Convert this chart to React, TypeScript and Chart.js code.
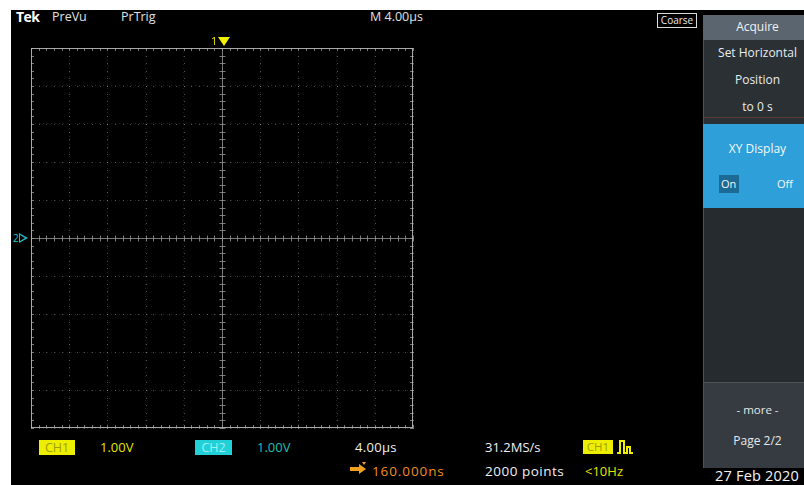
import React, { useEffect, useRef } from "react";
import { Chart, registerables } from "chart.js";

Chart.register(...registerables);

// XY display: both channels currently show no trace
const ch1X: number[] = [];
const ch2Y: number[] = [];
const xTicks = [-5, -4, -3, -2, -1, 0, 1, 2, 3, 4, 5];
const yTicks = [-5, -4, -3, -2, -1, 0, 1, 2, 3, 4, 5];
const minorStep = 0.2;

const font = "'Open Sans', 'Noto Sans', sans-serif";

const graticulePlugin = {
  id: "graticule",
  afterDraw(chart: any) {
    const { ctx, chartArea: a, scales } = chart;
    const xs = scales.x;
    const ys = scales.y;
    ctx.save();
    ctx.fillStyle = "rgba(160,160,160,0.5)";
    for (const xv of xTicks) {
      const px = Math.round(xs.getPixelForValue(xv));
      for (let k = -25; k <= 25; k++) {
        const py = Math.round(ys.getPixelForValue(k * minorStep));
        ctx.fillRect(px, py, 1, 1);
      }
    }
    for (const yv of yTicks) {
      const py = Math.round(ys.getPixelForValue(yv));
      for (let k = -25; k <= 25; k++) {
        const px = Math.round(xs.getPixelForValue(k * minorStep));
        ctx.fillRect(px, py, 1, 1);
      }
    }
    const cx = Math.round(xs.getPixelForValue(0)) + 0.5;
    const cy = Math.round(ys.getPixelForValue(0)) + 0.5;
    ctx.strokeStyle = "rgba(150,150,150,0.8)";
    ctx.lineWidth = 1;
    ctx.beginPath();
    ctx.moveTo(cx, a.top);
    ctx.lineTo(cx, a.bottom);
    ctx.moveTo(a.left, cy);
    ctx.lineTo(a.right, cy);
    for (let k = -25; k <= 25; k++) {
      const py = Math.round(ys.getPixelForValue(k * minorStep)) + 0.5;
      ctx.moveTo(cx - 3, py);
      ctx.lineTo(cx + 3, py);
      const px = Math.round(xs.getPixelForValue(k * minorStep)) + 0.5;
      ctx.moveTo(px, cy - 3);
      ctx.lineTo(px, cy + 3);
    }
    for (let k = -25; k <= 25; k++) {
      const px = Math.round(xs.getPixelForValue(k * minorStep)) + 0.5;
      ctx.moveTo(px, a.top);
      ctx.lineTo(px, a.top + 3);
      ctx.moveTo(px, a.bottom);
      ctx.lineTo(px, a.bottom - 3);
      const py = Math.round(ys.getPixelForValue(k * minorStep)) + 0.5;
      ctx.moveTo(a.left, py);
      ctx.lineTo(a.left + 3, py);
      ctx.moveTo(a.right, py);
      ctx.lineTo(a.right - 3, py);
    }
    ctx.stroke();
    ctx.strokeStyle = "rgba(185,185,185,0.9)";
    ctx.strokeRect(Math.round(a.left) + 0.5, Math.round(a.top) + 0.5, Math.round(a.width) - 1, Math.round(a.height) - 1);
    ctx.restore();
  },
};

function Txt(props: { x: number; y: number; c?: string; s?: number; w?: number; ls?: number; children: any; style?: any }) {
  return (
    <div
      style={{
        position: "absolute",
        left: props.x,
        top: props.y,
        color: props.c || "#ffffff",
        fontSize: props.s || 12,
        fontWeight: props.w || 400,
        letterSpacing: props.ls || 0,
        fontFamily: font,
        whiteSpace: "nowrap",
        lineHeight: 1,
        ...(props.style || {}),
      }}
    >
      {props.children}
    </div>
  );
}

function Box(props: { x: number; y: number; w: number; h: number; bg: string; style?: any; children?: any }) {
  return (
    <div
      style={{
        position: "absolute",
        left: props.x,
        top: props.y,
        width: props.w,
        height: props.h,
        background: props.bg,
        ...(props.style || {}),
      }}
    >
      {props.children}
    </div>
  );
}

function Centered(props: { y: number; c?: string; s?: number; ls?: number; children: any }) {
  return (
    <div
      style={{
        position: "absolute",
        left: 707,
        width: 101,
        top: props.y,
        textAlign: "center",
        color: props.c || "#e8ecef",
        fontSize: props.s || 12,
        letterSpacing: props.ls || 0,
        fontFamily: font,
        lineHeight: 1,
        whiteSpace: "nowrap",
      }}
    >
      {props.children}
    </div>
  );
}

export default function App() {
  const ref = useRef<HTMLCanvasElement>(null);
  useEffect(() => {
    const prev = document.body.style.overflow;
    document.body.style.overflow = "hidden";
    const chart = new Chart(ref.current as HTMLCanvasElement, {
      type: "scatter",
      data: {
        datasets: [
          { label: "CH1", data: ch1X.map((v, i) => ({ x: v, y: ch2Y[i] })), borderColor: "#f0ef00", backgroundColor: "#f0ef00", pointRadius: 1 },
        ],
      },
      options: {
        animation: false,
        responsive: false,
        maintainAspectRatio: false,
        layout: { padding: 5 },
        plugins: { legend: { display: false }, tooltip: { enabled: false } },
        scales: {
          x: {
            type: "linear",
            min: -5,
            max: 5,
            afterBuildTicks: (s: any) => { s.ticks = xTicks.map((v) => ({ value: v })); },
            ticks: { display: false },
            grid: { color: "rgba(100,100,100,0.28)", drawTicks: false, lineWidth: 1 },
            border: { display: false, dash: [1, 3] },
          },
          y: {
            type: "linear",
            min: -5,
            max: 5,
            afterBuildTicks: (s: any) => { s.ticks = yTicks.map((v) => ({ value: v })); },
            ticks: { display: false },
            grid: { color: "rgba(100,100,100,0.28)", drawTicks: false, lineWidth: 1 },
            border: { display: false, dash: [1, 3] },
          },
        },
      },
      plugins: [graticulePlugin],
    });
    return () => {
      chart.destroy();
      document.body.style.overflow = prev;
    };
  }, []);

  return (
    <div style={{ position: "absolute", left: 0, top: 0, width: 804, height: 485, background: "#ffffff", overflow: "hidden" }}>
      <Box x={11} y={10} w={793} h={475} bg="#000000" />
      <div style={{ position: "absolute", left: 26, top: 43, width: 392, height: 390 }}>
        <canvas ref={ref} width={392} height={390} style={{ display: "block", width: 392, height: 390 }} />
      </div>

      {/* top bar */}
      <Txt x={16} y={10} s={14} w={700} ls={-0.6}>Tek</Txt>
      <Txt x={52} y={11} s={12.5} c="#e0e0e0">PreVu</Txt>
      <Txt x={121} y={11} s={12.5} c="#e0e0e0">PrTrig</Txt>
      <Txt x={370} y={11} s={12.5} c="#e0e0e0">M 4.00µs</Txt>
      <div style={{ position: "absolute", left: 657, top: 13, width: 38, height: 13, border: "1px solid #d8d8d8", color: "#e8e8e8", fontSize: 10, fontFamily: font, lineHeight: "13px", textAlign: "center" }}>Coarse</div>

      {/* markers */}
      <Txt x={211} y={35} s={11} c="#f0ef00">1</Txt>
      <div style={{ position: "absolute", left: 218, top: 37, width: 0, height: 0, borderLeft: "6px solid transparent", borderRight: "6px solid transparent", borderTop: "9px solid #f0ef00" }} />
      <Txt x={13} y={233} s={10} c="#1fc0d0">2</Txt>
      <div style={{ position: "absolute", left: 19, top: 233, width: 0, height: 0, borderTop: "5px solid transparent", borderBottom: "5px solid transparent", borderLeft: "9px solid #1fb8c8" }} />
      <div style={{ position: "absolute", left: 20, top: 235, width: 0, height: 0, borderTop: "3px solid transparent", borderBottom: "3px solid transparent", borderLeft: "5px solid #000" }} />

      {/* bottom readouts */}
      <Box x={39} y={440} w={36} h={15} bg="#eeee00">
        <div style={{ color: "#a0a000", fontSize: 12.5, fontFamily: font, textAlign: "center", lineHeight: "15px" }}>CH1</div>
      </Box>
      <Txt x={100} y={441} s={13} c="#e4e400">1.00V</Txt>
      <Box x={195} y={440} w={37} h={15} bg="#22d0d8">
        <div style={{ color: "#9ef0f4", fontSize: 12.5, fontFamily: font, textAlign: "center", lineHeight: "15px" }}>CH2</div>
      </Box>
      <Txt x={257} y={441} s={13} c="#1cc0b4">1.00V</Txt>
      <Txt x={355} y={441} s={13} ls={0.3} c="#f0f0f0">4.00µs</Txt>
      <Txt x={485} y={441} s={13} c="#f0f0f0">31.2MS/s</Txt>
      <Box x={583} y={440} w={30} h={14} bg="#eeee00">
        <div style={{ color: "#a0a000", fontSize: 11.5, fontFamily: font, textAlign: "center", lineHeight: "14px" }}>CH1</div>
      </Box>
      <svg style={{ position: "absolute", left: 616, top: 439 }} width={18} height={16}>
        <path d="M1 14 H4 V2 H8 V14 H11 V8 H14 V14 H17" fill="none" stroke="#eeee00" strokeWidth={2} />
      </svg>

      <svg style={{ position: "absolute", left: 349, top: 462 }} width={20} height={14}>
        <path d="M1 7 H11" stroke="#f0a020" strokeWidth={4} />
        <path d="M10 2 L17 7 L10 12 Z" fill="#f0a020" />
        <path d="M13 0 L17 0 L15 3 Z" fill="#f0a020" />
      </svg>
      <Txt x={372} y={465} s={13.5} ls={0.9} c="#f08c24">160.000ns</Txt>
      <Txt x={485} y={465} s={13.5} ls={0.5} c="#f0f0f0">2000 points</Txt>
      <Txt x={585} y={465} s={13} c="#e4e400">&lt;10Hz</Txt>

      {/* right panel */}
      <Box x={703} y={15} w={101} h={453} bg="#262b2f" style={{ borderLeft: "1px solid #4a5258", boxSizing: "border-box" }} />
      <Box x={703} y={15} w={101} h={25} bg="#5a6570" />
      <Centered y={21} c="#f0f2f4">Acquire</Centered>
      <Box x={704} y={40} w={100} h={84} bg="#2a3034" />
      <Centered y={47}>Set Horizontal</Centered>
      <Centered y={74}>Position</Centered>
      <Centered y={101} s={12}>to 0 s</Centered>
      <Box x={704} y={117} w={100} h={1} bg="#5a3a36" />
      <Box x={703} y={124} w={101} h={84} bg="#2e9fd9" />
      <Centered y={143} c="#f4f8fb" s={12}>XY Display</Centered>
      <Box x={719} y={175} w={20} h={18} bg="#1c6a96" />
      <Txt x={721} y={178} s={11} c="#f4f8fb">On</Txt>
      <Txt x={777} y={178} s={11} c="#f4f8fb">Off</Txt>
      <Box x={703} y={382} w={101} h={1} bg="#4c545a" />
      <Box x={704} y={383} w={100} h={85} bg="#353b40" />
      <Centered y={404} s={11.5} c="#e4e8ea">- more -</Centered>
      <Centered y={435} s={12} c="#e4e8ea">Page 2/2</Centered>
      <Txt x={715} y={469} s={14.5} w={500} ls={0.2} c="#f4f4f4">27 Feb 2020</Txt>
    </div>
  );
}
